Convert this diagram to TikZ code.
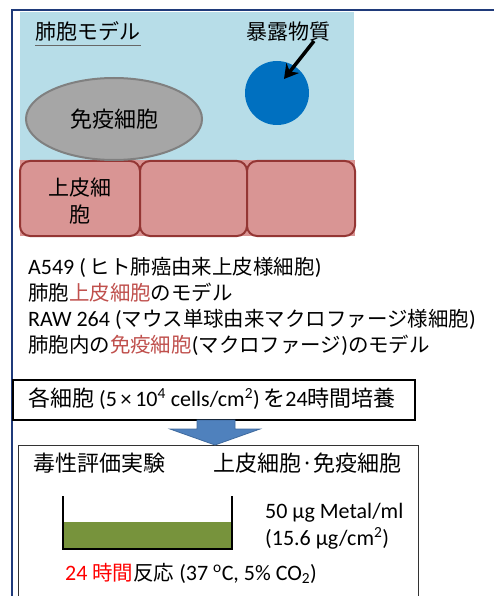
\documentclass[tikz,border=0pt]{standalone}
\usepackage{fontspec}
\usepackage{xcolor}
\setmainfont{Carlito}
\newfontfamily\jp[Scale=0.93]{Noto Sans CJK JP}
\newfontfamily\jpfull{Noto Sans CJK JP}
\newcommand\J[1]{{\jp #1}}
\newcommand\JF[1]{{\jpfull #1}}
\definecolor{alvblue}{HTML}{B7DDE8}
\definecolor{cellpink}{HTML}{D99594}
\definecolor{celledge}{HTML}{943634}
\definecolor{immgray}{HTML}{A6A6A6}
\definecolor{immedge}{HTML}{808080}
\definecolor{particle}{HTML}{0070C0}
\definecolor{framenavy}{HTML}{1F3A7A}
\definecolor{flowblue}{HTML}{4F81BD}
\definecolor{flowedge}{HTML}{3F6A9E}
\definecolor{hlred}{HTML}{C0504D}
\definecolor{medium}{HTML}{77933C}
\usetikzlibrary{arrows.meta,shapes.geometric}
\tikzset{
  txt/.style={inner sep=0pt, anchor=base west, font=\fontsize{22}{26}\selectfont},
  lbl/.style={inner sep=0pt, font=\fontsize{21}{25}\selectfont},
  epicell/.style={draw=celledge, line width=2pt, fill=cellpink, rounded corners=10pt},
}
\begin{document}
\begin{tikzpicture}[x=1pt,y=-1pt]
\useasboundingbox (0,0) rectangle (493,596);
\fill[white] (0,0) rectangle (493,596);

% outer frame (continues past the page edges)
\draw[framenavy, line width=2pt] (12,600) -- (12,10) -- (500,10);

% alveolus model
\fill[alvblue] (20,12) rectangle (354,160);
\fill[cellpink] (20,160) rectangle (355,236);
\draw[epicell] (20,161) rectangle (140,236);
\draw[epicell] (140,161) rectangle (247,236);
\draw[epicell] (247,161) rectangle (355,236);
\node[lbl, anchor=base west] (title) at (35,40) {\JF{肺胞モデル}};
\draw[immedge!80!black, line width=1.2pt] (35,45.5) -- (141,45.5);
\node[draw=immedge, line width=2pt, fill=immgray, ellipse,
      minimum width=176pt, minimum height=82pt, inner sep=0pt] (imm) at (114,119) {};
\node[lbl, font=\fontsize{22}{26}\selectfont] (immlab) at (114,119) {\JF{免疫細胞}};
\node[lbl, font=\fontsize{21}{27}\selectfont, align=center] (epilab) at (80,201) {\JF{上皮細}\\\JF{胞}};
\node[circle, fill=particle, minimum size=64pt, inner sep=0pt] (np) at (277,93) {};
\node[lbl, anchor=base west] (nplab) at (246,40) {\JF{暴露物質}};
\coordinate (arrtail) at (314,41);
\draw[-{Stealth[length=14pt,width=16pt]}, line width=3.5pt] (arrtail) -- (284,79);

% cell line descriptions
\node[txt] (l1) at (28,274) {A549 (\,\J{ヒト肺癌由来上皮様細胞})};
\node[txt] (l2) at (28,300) {\J{肺胞\textcolor{hlred}{上皮細胞}のモデル}};
\node[txt] (l3) at (28,326) {RAW 264 (\J{マウス単球由来マクロファージ様細胞})};
\node[txt] (l4) at (28,352) {\J{肺胞内の\textcolor{hlred}{免疫細胞}}(\J{マクロファージ})\J{のモデル}};

% culture step
\draw[black, line width=1.2pt, fill=white] (13,380) rectangle (415,420);
\node[txt] (culture) at (28,406) {\JF{各細胞} (5\,×\,10\textsuperscript{4} cells/cm\textsuperscript{2})\,\JF{を}24\JF{時間培養}};

% toxicity assay box
\draw[black!80, line width=1pt] (18,600) -- (18,445) -- (418,445) -- (418,600);
\node[txt] (assay) at (33,471) {\JF{毒性評価実験}};
\node[txt, anchor=base east] (cells) at (402,471) {\JF{上皮細胞·免疫細胞}};
\fill[medium] (63,522) rectangle (232,549);
\draw[black, line width=2pt] (63,496) -- (63,549) -- (232,549) -- (232,496);
\node[txt] (dose1) at (265,518) {50 μg Metal/ml};
\node[txt] (dose2) at (265,545) {(15.6 μg/cm\textsuperscript{2})};
\node[txt] (react) at (65,580) {\textcolor{red}{24 \J{時間}}\J{反応} (37 \textsuperscript{o}C, 5\% CO\textsubscript{2})};

% flow arrow between the steps
\draw[flowedge, fill=flowblue, line width=0.8pt]
  (197,420) -- (235,420) -- (235,429) -- (260,429) -- (215,445) -- (170,429) -- (197,429) -- cycle;
\end{tikzpicture}
\end{document}
